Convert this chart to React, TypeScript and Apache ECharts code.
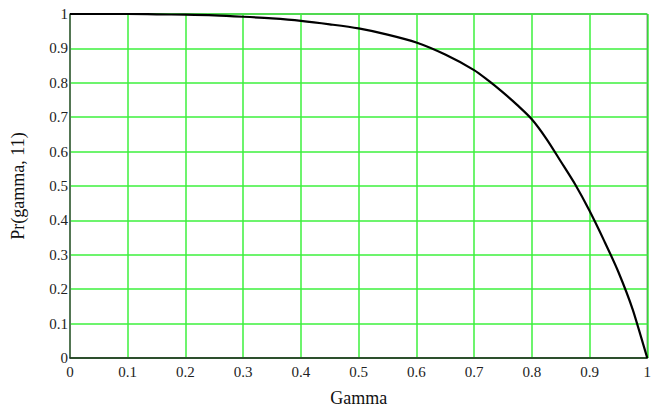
import React, { useEffect, useRef } from "react";
import * as echarts from "echarts";

const gammaValues = [0, 0.05, 0.1, 0.15, 0.2, 0.25, 0.3, 0.35, 0.4, 0.45, 0.5, 0.55, 0.6, 0.65, 0.7, 0.725, 0.75, 0.775, 0.8, 0.825, 0.85, 0.875, 0.9, 0.925, 0.95, 0.975, 1.0];
const prValues = [1.0, 1.0, 1.0, 0.999, 0.998, 0.996, 0.992, 0.987, 0.98, 0.97, 0.958, 0.94, 0.917, 0.882, 0.837, 0.806, 0.772, 0.735, 0.694, 0.638, 0.572, 0.505, 0.428, 0.342, 0.25, 0.14, 0.0];
const xTickLabels = ["0", "0.1", "0.2", "0.3", "0.4", "0.5", "0.6", "0.7", "0.8", "0.9", "1"];
const yTickLabels = ["0", "0.1", "0.2", "0.3", "0.4", "0.5", "0.6", "0.7", "0.8", "0.9", "1"];

const FONT = "'Liberation Serif', 'Times New Roman', serif";

export default function App() {
  const ref = useRef<HTMLDivElement>(null);
  useEffect(() => {
    if (!ref.current) return;
    const chart = echarts.init(ref.current, null, { renderer: "svg" });
    const fmt = (labels: string[]) => (v: number) => {
      const i = Math.round(v * 10);
      return labels[i] ?? "";
    };
    chart.setOption({
      animation: false,
      backgroundColor: "#ffffff",
      textStyle: { fontFamily: FONT },
      grid: {
        left: 70,
        right: 5,
        top: 14,
        bottom: 57,
        show: true,
        borderColor: "#1a2a1a",
        borderWidth: 1,
      },
      xAxis: {
        type: "value",
        min: 0,
        max: 1,
        interval: 0.1,
        name: "Gamma",
        nameLocation: "middle",
        nameGap: 31,
        nameTextStyle: { fontFamily: FONT, fontSize: 18, color: "#111" },
        axisLine: { show: true, lineStyle: { color: "#222", width: 1.5 } },
        axisTick: { show: false },
        axisLabel: {
          fontFamily: FONT,
          fontSize: 15,
          color: "#222",
          margin: 6,
          formatter: fmt(xTickLabels),
        },
        splitLine: { show: true, lineStyle: { color: "#3cf03c", width: 1.5 } },
      },
      yAxis: {
        type: "value",
        min: 0,
        max: 1,
        interval: 0.1,
        name: "Pr(gamma, 11)",
        nameLocation: "middle",
        nameGap: 43,
        nameRotate: 90,
        nameTextStyle: { fontFamily: FONT, fontSize: 18, color: "#111" },
        axisLine: { show: true, lineStyle: { color: "#555", width: 1.5 } },
        axisTick: { show: false },
        axisLabel: {
          fontFamily: FONT,
          fontSize: 15,
          color: "#222",
          margin: 2,
          formatter: fmt(yTickLabels),
        },
        splitLine: { show: true, lineStyle: { color: "#3cf03c", width: 1.5 } },
      },
      series: [
        {
          type: "line",
          data: gammaValues.map((g, i) => [g, prValues[i]]),
          showSymbol: false,
          smooth: 0.3,
          lineStyle: { color: "#000", width: 2.2 },
          z: 5,
        },
      ],
    });
    return () => chart.dispose();
  }, []);
  return <div ref={ref} style={{ width: 654, height: 415, position: "absolute", left: 0, top: 0 }} />;
}
